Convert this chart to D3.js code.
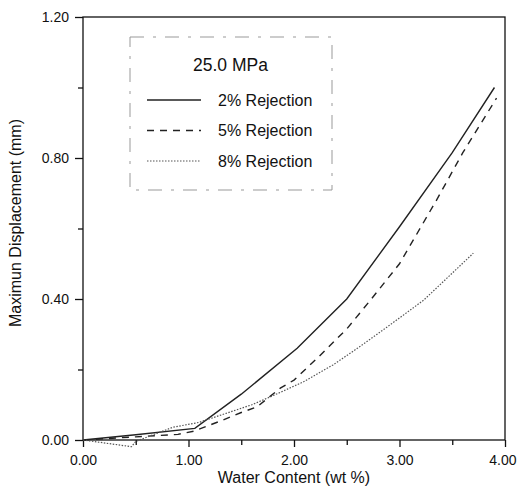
<!DOCTYPE html>
<html>
<head>
    <title>Maximum Displacement vs Water Content</title>
    <script src="https://d3js.org/d3.v7.min.js"></script>
    <style>
        body { margin: 0; background: #fff; }
        text { font-family: "Liberation Sans", Arial, sans-serif; fill: #111; }
    </style>
</head>
<body>
    <svg id="chart"></svg>

    <script>
        // values
        const xTicks = [0, 1, 2, 3, 4];
        const yTicks = [0, 0.4, 0.8, 1.2];
        const xMinor = [0.5, 1.5, 2.5, 3.5];
        const yMinor = [0.2, 0.6, 1.0];

        const legendTitle = "25.0 MPa";
        const seriesNames = ["2% Rejection", "5% Rejection", "8% Rejection"];

        const water2 = [0, 0.5, 1.06, 1.5, 2.03, 2.5, 3.0, 3.5, 3.9];
        const disp2 = [0, 0.015, 0.033, 0.13, 0.26, 0.40, 0.605, 0.815, 1.00];

        const water5 = [0, 0.5, 0.9, 1.05, 1.33, 1.5, 1.65, 1.87, 2.0, 2.22, 2.5, 2.72, 3.0, 3.35, 3.6, 3.92];
        const disp5 = [0, 0.009, 0.016, 0.025, 0.057, 0.078, 0.094, 0.147, 0.17, 0.232, 0.315, 0.395, 0.50, 0.68, 0.815, 0.97];

        const water8 = [0, 0.46, 0.5, 0.85, 1.1, 1.6, 1.78, 2.09, 2.37, 2.6, 2.82, 3.04, 3.23, 3.7];
        const disp8 = [0, -0.019, -0.004, 0.036, 0.05, 0.1, 0.123, 0.165, 0.213, 0.26, 0.307, 0.355, 0.397, 0.53];

        const dashes = [null, "7,6", "1.5,1.5"];

        const svgWidth = 517;
        const svgHeight = 487;
        const margin = { top: 17, right: 12, bottom: 47, left: 83 };
        const width = svgWidth - margin.left - margin.right;
        const height = svgHeight - margin.top - margin.bottom;

        const root = d3.select("#chart")
            .attr("width", svgWidth)
            .attr("height", svgHeight);

        const svg = root.append("g")
            .attr("transform", `translate(${margin.left}, ${margin.top})`);

        const xScale = d3.scaleLinear().domain([0, 4]).range([0, width]);
        const yScale = d3.scaleLinear().domain([0, 1.2]).range([height, 0]);

        // frame
        svg.append("rect")
            .attr("width", width)
            .attr("height", height)
            .attr("fill", "none")
            .attr("stroke", "#111")
            .attr("stroke-width", 1.3);

        // minor ticks
        svg.append("g")
            .attr("transform", `translate(0, ${height})`)
            .call(d3.axisBottom(xScale).tickValues(xMinor).tickSize(5).tickFormat(""))
            .call(g => g.select(".domain").remove());
        svg.append("g")
            .call(d3.axisLeft(yScale).tickValues(yMinor).tickSize(5).tickFormat(""))
            .call(g => g.select(".domain").remove());

        // major ticks
        const xAxis = svg.append("g")
            .attr("transform", `translate(0, ${height})`)
            .call(d3.axisBottom(xScale).tickValues(xTicks).tickSize(7).tickPadding(8).tickFormat(d3.format(".2f")));
        const yAxis = svg.append("g")
            .call(d3.axisLeft(yScale).tickValues(yTicks).tickSize(8).tickPadding(6).tickFormat(d3.format(".2f")));

        [xAxis, yAxis].forEach(a => {
            a.select(".domain").remove();
            a.selectAll("text").style("font-size", "14px").attr("font-family", null);
        });
        // last x label sits at the right edge, keep it inside
        xAxis.selectAll(".tick text").filter(d => d == 4)
            .attr("text-anchor", "end")
            .attr("dx", 11);
        svg.selectAll(".tick line").attr("stroke", "#111").attr("stroke-width", 1.3);

        // lines
        const series = [
            water2.map((x, i) => ({ x: x, y: disp2[i] })),
            water5.map((x, i) => ({ x: x, y: disp5[i] })),
            water8.map((x, i) => ({ x: x, y: disp8[i] }))
        ];

        const line = d3.line()
            .x(d => xScale(d.x))
            .y(d => yScale(d.y));

        series.forEach((s, i) => {
            svg.append("path")
                .datum(s)
                .attr("fill", "none")
                .attr("stroke", i == 2 ? "#555" : "#222")
                .attr("stroke-width", i == 2 ? 1.2 : 1.4)
                .attr("stroke-dasharray", dashes[i])
                .attr("d", line);
        });

        // axis titles
        svg.append("text")
            .attr("x", xScale(2))
            .attr("y", height + 43)
            .style("text-anchor", "middle")
            .style("font-size", "16px")
            .text("Water Content (wt %)");

        svg.append("text")
            .attr("transform", "rotate(-90)")
            .attr("x", -(223 - margin.top))
            .attr("y", -margin.left + 21)
            .style("text-anchor", "middle")
            .style("font-size", "16px")
            .text("Maximun Displacement (mm)");

        // legend
        const legend = root.append("g").attr("transform", "translate(130, 37)");
        legend.append("rect")
            .attr("width", 202)
            .attr("height", 153)
            .attr("fill", "none")
            .attr("stroke", "#999")
            .attr("stroke-width", 1)
            .attr("stroke-dasharray", "14,9,3,9");

        legend.append("text")
            .attr("x", 63)
            .attr("y", 34)
            .style("font-size", "17.5px")
            .text(legendTitle);

        seriesNames.forEach((name, i) => {
            const yRow = 63 + i * 30.5;
            legend.append("line")
                .attr("x1", 17).attr("x2", 71)
                .attr("y1", yRow).attr("y2", yRow)
                .attr("stroke", i == 2 ? "#555" : "#222")
                .attr("stroke-width", i == 2 ? 1.2 : 1.4)
                .attr("stroke-dasharray", dashes[i]);
            legend.append("text")
                .attr("x", 88)
                .attr("y", yRow + 5.5)
                .style("font-size", "16px")
                .text(name);
        });
    </script>
</body>
</html>
